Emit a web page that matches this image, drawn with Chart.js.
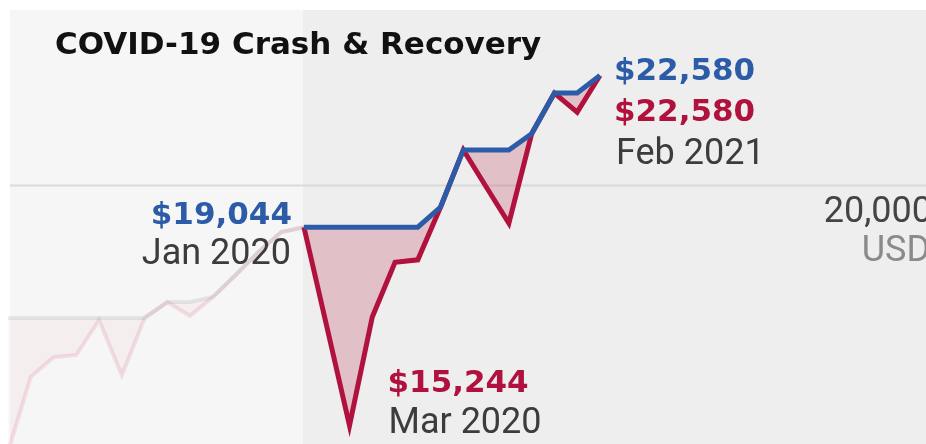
<!DOCTYPE html>
<html>
<head>
<meta charset="utf-8">
<script src="https://cdn.jsdelivr.net/npm/chart.js@4.4.1/dist/chart.umd.min.js"></script>
<style>
  html, body { margin: 0; padding: 0; background: #ffffff; }
  #wrap { width: 926px; height: 444px; position: relative; }
</style>
</head>
<body>
<div id="wrap"><canvas id="grafico"></canvas></div>
<script>
// ---- datos (meses desde Dic 2018 hasta Feb 2021) ----
const months = [
  'Dec 2018', 'Jan 2019', 'Feb 2019', 'Mar 2019', 'Apr 2019', 'May 2019', 'Jun 2019',
  'Jul 2019', 'Aug 2019', 'Sep 2019', 'Oct 2019', 'Nov 2019', 'Dec 2019',
  'Jan 2020', 'Feb 2020', 'Mar 2020', 'Apr 2020', 'May 2020', 'Jun 2020',
  'Jul 2020', 'Aug 2020', 'Sep 2020', 'Oct 2020', 'Nov 2020', 'Dec 2020',
  'Jan 2021', 'Feb 2021'
];

// tramo atenuado: Dic 2018 -> Ene 2020
const historyValue = [14800, 16100, 16460, 16500, 17160, 16130, 17200, 17510, 17240, 17610, 18050, 18520, 18940, 19044];
const historyPeak  = [17200, 17200, 17200, 17200, 17200, 17200, 17200, 17510, 17510, 17610, 18050, 18520, 18940, 19044];

// tramo resaltado: Ene 2020 -> Feb 2021
const recoveryValue = [19044, 17040, 15244, 17220, 18310, 18360, 19480, 20770, 19930, 19130, 21150, 22140, 21670, 22580];
const recoveryPeak  = [19044, 19044, 19044, 19044, 19044, 19044, 19480, 20770, 20770, 20770, 21150, 22140, 22140, 22580];

const focusStart = months.indexOf('Jan 2020');
const gridValue = 20000;

const azul = '#2c5ca8';
const rojo = '#b1123d';
const gris = '#3c3c3c';

const fmtUSD = v => '$' + Math.round(v).toLocaleString('en-US');

function puntos(values, offset) {
  return values.map((v, i) => ({ x: offset + i, y: v }));
}

// ---- decoracion: fondo, banda, linea de 20,000, textos ----
const decoracion = {
  id: 'decoracion',
  beforeDraw(chart) {
    const { ctx, width, height } = chart;
    const x = chart.scales.x;
    ctx.save();
    ctx.fillStyle = '#ffffff';
    ctx.fillRect(0, 0, width, height);
    ctx.fillStyle = '#f6f6f6';
    ctx.fillRect(10, 10, width - 10, height - 10);
    const bx = x.getPixelForValue(focusStart) - 1;
    ctx.fillStyle = '#eeeeee';
    ctx.fillRect(bx, 10, width - bx, height - 10);
    ctx.restore();
  },
  beforeDatasetsDraw(chart) {
    const { ctx, width } = chart;
    const gy = chart.scales.y.getPixelForValue(gridValue) + 2;
    ctx.save();
    ctx.strokeStyle = '#d9d9d9';
    ctx.lineWidth = 2;
    ctx.beginPath();
    ctx.moveTo(10, gy);
    ctx.lineTo(width, gy);
    ctx.stroke();

    ctx.textAlign = 'right';
    ctx.textBaseline = 'alphabetic';
    ctx.font = '36px Roboto';
    ctx.fillStyle = '#444444';
    ctx.fillText(gridValue.toLocaleString('en-US'), width + 6, gy + 36);
    ctx.fillStyle = '#8a8a8a';
    ctx.fillText('USD', width + 4, gy + 75);

    ctx.textAlign = 'left';
    ctx.fillStyle = '#111111';
    ctx.font = 'bold 31px "DejaVu Sans"';
    ctx.fillText('COVID-19 Crash & Recovery', 55, 54);
    ctx.restore();
  },
  afterDatasetsDraw(chart) {
    const { ctx } = chart;
    const x = chart.scales.x, y = chart.scales.y;
    const bold = 'bold 31px "DejaVu Sans"';
    const reg = '36px Roboto';
    ctx.save();
    ctx.textBaseline = 'alphabetic';

    // pico previo
    const i0 = focusStart;
    let px = x.getPixelForValue(i0), py = y.getPixelForValue(recoveryPeak[0]);
    ctx.textAlign = 'right';
    ctx.font = bold; ctx.fillStyle = azul;
    ctx.fillText(fmtUSD(recoveryPeak[0]), px - 12, py - 3);
    ctx.font = reg; ctx.fillStyle = gris;
    ctx.fillText(months[i0], px - 13, py + 37);

    // minimo
    const iMin = recoveryValue.indexOf(Math.min(...recoveryValue));
    px = x.getPixelForValue(i0 + iMin); py = y.getPixelForValue(recoveryValue[iMin]);
    ctx.textAlign = 'left';
    ctx.font = bold; ctx.fillStyle = rojo;
    ctx.fillText(fmtUSD(recoveryValue[iMin]), px + 38, py - 34);
    ctx.font = reg; ctx.fillStyle = gris;
    ctx.fillText(months[i0 + iMin], px + 39, py + 7);

    // ultimo punto
    const iLast = recoveryValue.length - 1;
    px = x.getPixelForValue(i0 + iLast); py = y.getPixelForValue(recoveryPeak[iLast]);
    ctx.font = bold; ctx.fillStyle = azul;
    ctx.fillText(fmtUSD(recoveryPeak[iLast]), px + 14, py + 5);
    ctx.fillStyle = rojo;
    ctx.fillText(fmtUSD(recoveryValue[iLast]), px + 14, py + 46);
    ctx.font = reg; ctx.fillStyle = gris;
    ctx.fillText(months[i0 + iLast], px + 16, py + 89);
    ctx.restore();
  }
};

new Chart(document.getElementById('grafico'), {
  type: 'line',
  data: {
    datasets: [
      {
        data: puntos(recoveryPeak, focusStart),
        borderColor: azul, borderWidth: 5, fill: false
      },
      {
        data: puntos(recoveryValue, focusStart),
        borderColor: rojo, borderWidth: 5,
        fill: { target: 0 }, backgroundColor: 'rgba(185,30,70,0.22)'
      },
      {
        data: puntos(historyPeak, 0),
        borderColor: 'rgba(110,120,140,0.14)', borderWidth: 4, fill: false
      },
      {
        data: puntos(historyValue, 0),
        borderColor: 'rgba(200,30,70,0.12)', borderWidth: 4,
        fill: { target: 2 }, backgroundColor: 'rgba(200,30,70,0.035)'
      }
    ]
  },
  options: {
    responsive: true,
    maintainAspectRatio: false,
    animation: false,
    layout: { padding: 0 },
    elements: {
      point: { radius: 0, hoverRadius: 0 },
      line: { tension: 0, borderJoinStyle: 'miter', borderCapStyle: 'butt' }
    },
    scales: {
      x: { type: 'linear', display: false, min: -0.35, max: 40.32 },
      y: { type: 'logarithmic', display: false, min: 14931, max: 24576 }
    },
    plugins: { legend: { display: false }, tooltip: { enabled: false } }
  },
  plugins: [decoracion]
});
</script>
</body>
</html>
